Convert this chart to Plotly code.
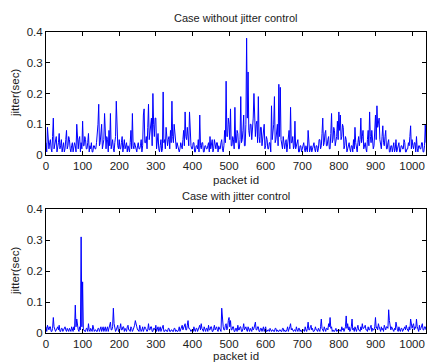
import plotly.graph_objects as go

# jitter readings, one per two packets (packet id 0, 2, 4, ...)
jitter_without = [
    0.04,0.01, 0.09,0.03, 0.02,0.04, 0.05,0.02, 0.01,0.06, 0.12,0.02, 0.03,0.05, 0.06,0.01, 0.02,0.04, 0.07,0.02,
    0.03,0.05, 0.01,0.03, 0.04,0.01, 0.02,0.05, 0.08,0.02, 0.03,0.06, 0.05,0.02, 0.01,0.03, 0.04,0.01, 0.02,0.04,
    0.03,0.01, 0.10,0.02, 0.02,0.05, 0.06,0.01, 0.04,0.02, 0.11,0.03, 0.03,0.06, 0.05,0.02, 0.02,0.04, 0.07,0.01,
    0.03,0.02, 0.04,0.01, 0.01,0.03, 0.03,0.02, 0.02,0.04, 0.06,0.10, 0.165,0.03, 0.04,0.08, 0.10,0.02, 0.03,0.05,
    0.135,0.04, 0.02,0.06, 0.05,0.01, 0.08,0.03, 0.135,0.02, 0.03,0.05, 0.02,0.01, 0.04,0.06, 0.175,0.04, 0.03,0.02,
    0.05,0.02, 0.02,0.04, 0.06,0.01, 0.03,0.05, 0.02,0.03, 0.04,0.01, 0.03,0.02, 0.01,0.04, 0.08,0.02, 0.135,0.03,
    0.02,0.04, 0.03,0.01, 0.01,0.03, 0.04,0.02, 0.02,0.03, 0.05,0.01, 0.03,0.13, 0.15,0.04, 0.04,0.06, 0.02,0.09,
    0.165,0.05, 0.08,0.12, 0.12,0.03, 0.20,0.10, 0.06,0.12, 0.12,0.02, 0.04,0.07, 0.02,0.01, 0.03,0.05, 0.01,0.02,
    0.205,0.04, 0.05,0.02, 0.09,0.06, 0.03,0.05, 0.06,0.02, 0.08,0.04, 0.175,0.06, 0.04,0.10, 0.06,0.02, 0.02,0.04,
    0.03,0.01, 0.01,0.02, 0.04,0.03, 0.02,0.05, 0.08,0.03, 0.14,0.06, 0.05,0.09, 0.07,0.03, 0.14,0.05, 0.03,0.02,
    0.02,0.04, 0.04,0.01, 0.01,0.03, 0.03,0.02, 0.05,0.01, 0.13,0.03, 0.02,0.04, 0.04,0.01, 0.01,0.03, 0.03,0.02,
    0.02,0.03, 0.04,0.01, 0.06,0.02, 0.03,0.05, 0.01,0.02, 0.05,0.03, 0.02,0.04, 0.04,0.01, 0.03,0.02, 0.02,0.04,
    0.05,0.02, 0.01,0.03, 0.08,0.04, 0.24,0.06, 0.06,0.12, 0.10,0.05, 0.15,0.03, 0.03,0.06, 0.05,0.02, 0.155,0.04,
    0.04,0.08, 0.07,0.02, 0.02,0.05, 0.19,0.04, 0.05,0.08, 0.13,0.03, 0.03,0.10, 0.38,0.12, 0.27,0.08, 0.06,0.10,
    0.10,0.05, 0.08,0.12, 0.20,0.07, 0.06,0.10, 0.11,0.04, 0.19,0.06, 0.04,0.09, 0.09,0.03, 0.05,0.08, 0.10,0.02,
    0.03,0.06, 0.05,0.02, 0.02,0.04, 0.04,0.01, 0.16,0.05, 0.07,0.10, 0.19,0.04, 0.05,0.08, 0.10,0.03, 0.23,0.06,
    0.22,0.05, 0.04,0.02, 0.06,0.03, 0.02,0.04, 0.05,0.01, 0.03,0.06, 0.08,0.02, 0.155,0.04, 0.04,0.06, 0.02,0.03,
    0.11,0.02, 0.03,0.05, 0.05,0.01, 0.01,0.03, 0.03,0.01, 0.02,0.04, 0.04,0.02, 0.01,0.03, 0.02,0.01, 0.08,0.02,
    0.01,0.02, 0.03,0.01, 0.02,0.04, 0.04,0.02, 0.01,0.03, 0.03,0.01, 0.02,0.05, 0.05,0.02, 0.03,0.07, 0.12,0.03,
    0.04,0.07, 0.08,0.03, 0.03,0.05, 0.06,0.02, 0.02,0.07, 0.135,0.04, 0.05,0.09, 0.08,0.03, 0.04,0.06, 0.11,0.05,
    0.14,0.08, 0.13,0.05, 0.06,0.10, 0.09,0.02, 0.03,0.06, 0.05,0.01, 0.02,0.04, 0.04,0.02, 0.01,0.03, 0.03,0.01,
    0.05,0.02, 0.09,0.04, 0.02,0.01, 0.04,0.06, 0.03,0.05, 0.12,0.04, 0.06,0.08, 0.02,0.03, 0.04,0.02, 0.01,0.05,
    0.08,0.03, 0.14,0.06, 0.04,0.08, 0.06,0.02, 0.03,0.07, 0.13,0.05, 0.16,0.09, 0.10,0.12, 0.05,0.03, 0.02,0.06,
    0.095,0.04, 0.03,0.06, 0.08,0.02, 0.02,0.04, 0.05,0.01, 0.01,0.03, 0.03,0.01, 0.02,0.04, 0.01,0.02, 0.05,0.01,
    0.02,0.04, 0.04,0.01, 0.01,0.03, 0.03,0.02, 0.02,0.05, 0.04,0.01, 0.01,0.02, 0.02,0.04, 0.03,0.06, 0.095,0.02,
    0.05,0.03, 0.02,0.04, 0.04,0.01, 0.06,0.02, 0.01,0.03, 0.03,0.02, 0.02,0.04, 0.04,0.01, 0.01,0.03, 0.10,0.04,
]

jitter_with = [
    0.02,0.005, 0.025,0.01, 0.01,0.02, 0.02,0.005, 0.005,0.015, 0.05,0.02, 0.015,0.005, 0.01,0.02, 0.02,0.01, 0.025,0.005,
    0.005,0.015, 0.015,0.005, 0.01,0.02, 0.02,0.01, 0.005,0.015, 0.01,0.005, 0.015,0.01, 0.005,0.02, 0.01,0.005, 0.02,0.01,
    0.09,0.02, 0.045,0.01, 0.01,0.005, 0.02,0.01, 0.31,0.02, 0.165,0.01, 0.01,0.005, 0.005,0.015, 0.015,0.005, 0.03,0.01,
    0.005,0.015, 0.01,0.005, 0.025,0.01, 0.005,0.01, 0.01,0.005, 0.005,0.015, 0.015,0.005, 0.01,0.02, 0.005,0.01, 0.02,0.005,
    0.01,0.02, 0.005,0.01, 0.02,0.005, 0.015,0.025, 0.035,0.01, 0.01,0.02, 0.08,0.03, 0.02,0.005, 0.01,0.015, 0.025,0.005,
    0.005,0.015, 0.03,0.01, 0.01,0.02, 0.02,0.005, 0.015,0.01, 0.005,0.02, 0.025,0.01, 0.01,0.005, 0.02,0.015, 0.005,0.01,
    0.015,0.025, 0.04,0.02, 0.02,0.01, 0.01,0.005, 0.025,0.015, 0.005,0.01, 0.02,0.005, 0.01,0.02, 0.015,0.005, 0.005,0.01,
    0.03,0.01, 0.01,0.02, 0.02,0.005, 0.005,0.015, 0.015,0.01, 0.025,0.005, 0.01,0.02, 0.005,0.01, 0.02,0.005, 0.01,0.015,
    0.025,0.005, 0.005,0.01, 0.01,0.005, 0.005,0.015, 0.015,0.005, 0.005,0.01, 0.01,0.005, 0.005,0.015, 0.015,0.005, 0.01,0.005,
    0.005,0.01, 0.02,0.005, 0.01,0.02, 0.025,0.01, 0.015,0.02, 0.03,0.01, 0.01,0.025, 0.04,0.015, 0.015,0.01, 0.005,0.01,
    0.01,0.005, 0.02,0.01, 0.005,0.015, 0.015,0.005, 0.01,0.02, 0.025,0.01, 0.03,0.015, 0.01,0.005, 0.02,0.01, 0.005,0.015,
    0.015,0.005, 0.025,0.01, 0.01,0.02, 0.02,0.005, 0.005,0.015, 0.025,0.01, 0.015,0.02, 0.01,0.005, 0.02,0.015, 0.01,0.005,
    0.08,0.02, 0.02,0.01, 0.01,0.025, 0.03,0.01, 0.015,0.04, 0.05,0.02, 0.04,0.01, 0.01,0.02, 0.02,0.005, 0.005,0.015,
    0.015,0.005, 0.025,0.01, 0.01,0.02, 0.02,0.005, 0.005,0.015, 0.03,0.01, 0.015,0.02, 0.01,0.005, 0.02,0.01, 0.005,0.015,
    0.01,0.005, 0.02,0.01, 0.015,0.025, 0.035,0.01, 0.01,0.02, 0.02,0.005, 0.005,0.015, 0.015,0.005, 0.01,0.02, 0.005,0.01,
    0.02,0.005, 0.005,0.01, 0.01,0.005, 0.015,0.01, 0.005,0.01, 0.01,0.005, 0.005,0.015, 0.015,0.005, 0.01,0.005, 0.005,0.01,
    0.01,0.005, 0.005,0.015, 0.015,0.005, 0.01,0.005, 0.005,0.01, 0.02,0.005, 0.01,0.02, 0.03,0.01, 0.015,0.005, 0.005,0.01,
    0.01,0.005, 0.02,0.01, 0.005,0.015, 0.015,0.005, 0.01,0.005, 0.005,0.01, 0.01,0.005, 0.02,0.01, 0.005,0.015, 0.035,0.01,
    0.01,0.02, 0.025,0.01, 0.015,0.005, 0.005,0.01, 0.02,0.01, 0.01,0.005, 0.015,0.01, 0.005,0.02, 0.045,0.015, 0.01,0.005,
    0.02,0.01, 0.005,0.015, 0.015,0.01, 0.03,0.02, 0.05,0.015, 0.02,0.005, 0.01,0.005, 0.005,0.01, 0.015,0.005, 0.01,0.005,
    0.005,0.01, 0.01,0.005, 0.02,0.01, 0.015,0.005, 0.01,0.02, 0.055,0.015, 0.03,0.01, 0.02,0.005, 0.01,0.02, 0.045,0.01,
    0.015,0.005, 0.02,0.01, 0.005,0.015, 0.025,0.01, 0.01,0.005, 0.02,0.01, 0.03,0.015, 0.015,0.02, 0.025,0.01, 0.01,0.005,
    0.02,0.01, 0.01,0.02, 0.025,0.005, 0.015,0.01, 0.01,0.02, 0.05,0.015, 0.02,0.01, 0.03,0.02, 0.01,0.005, 0.02,0.01,
    0.015,0.005, 0.025,0.01, 0.01,0.02, 0.02,0.015, 0.075,0.04, 0.03,0.01, 0.02,0.015, 0.01,0.005, 0.015,0.01, 0.035,0.01,
    0.01,0.005, 0.02,0.01, 0.005,0.015, 0.015,0.005, 0.01,0.02, 0.02,0.01, 0.025,0.015, 0.01,0.005, 0.02,0.01, 0.045,0.015,
    0.015,0.025, 0.03,0.01, 0.02,0.015, 0.045,0.02, 0.01,0.005, 0.025,0.01, 0.015,0.03, 0.03,0.01, 0.01,0.02, 0.02,0.01,
]

packet_ids_top = list(range(0, 2 * len(jitter_without), 2))
packet_ids_bottom = list(range(0, 2 * len(jitter_with), 2))

titles = ["Case without jitter control", "Case with jitter control"]
x_label = "packet id"
y_label = "jitter(sec)"
x_ticks = [0, 100, 200, 300, 400, 500, 600, 700, 800, 900, 1000]
y_ticks = [0, 0.1, 0.2, 0.3, 0.4]

FONT = "Liberation Sans, Arial, sans-serif"
W, H = 427, 362
ml, mt = 46, 32
mr = W - 426
mb = H - 333
ph = H - mt - mb
pw = W - ml - mr

def py(page_y):
    return (H - mb - page_y) / ph

def px(page_x):
    return (page_x - ml) / pw

fig = go.Figure()
fig.add_trace(go.Scatter(x=packet_ids_top, y=jitter_without, mode="lines",
                         line=dict(color="#0000ff", width=1), xaxis="x", yaxis="y"))
fig.add_trace(go.Scatter(x=packet_ids_bottom, y=jitter_with, mode="lines",
                         line=dict(color="#0000ff", width=1), xaxis="x2", yaxis="y2"))

axis_common = dict(showline=True, linecolor="black", linewidth=1, mirror="ticks",
                   ticks="inside", ticklen=4, tickcolor="black", showgrid=False,
                   zeroline=False, tickfont=dict(family=FONT, size=11.5, color="#222"))

fig.update_layout(
    width=W, height=H,
    margin=dict(l=ml, r=mr, t=mt, b=mb, autoexpand=False),
    paper_bgcolor="white", plot_bgcolor="white",
    showlegend=False,
    hovermode=False,
    xaxis=dict(domain=[0, 1], range=[0, 1038], tickvals=x_ticks, anchor="y", **axis_common),
    yaxis=dict(domain=[py(155), 1], range=[0, 0.4], tickvals=y_ticks, anchor="x", **axis_common),
    xaxis2=dict(domain=[0, 1], range=[0, 1038], tickvals=x_ticks, anchor="y2", **axis_common),
    yaxis2=dict(domain=[0, py(209)], range=[0, 0.4], tickvals=y_ticks, anchor="x2", **axis_common),
)

ann = [
    (titles[0], px(236), py(18), 0, 11.0),
    (titles[1], px(236), py(196), 0, 11.0),
    (x_label, px(236), py(180), 0, 11.5),
    (x_label, px(236), py(356), 0, 11.5),
    (y_label, px(15), py(93), -90, 11.5),
    (y_label, px(15), py(271), -90, 11.5),
]
for i, (txt, x, y, ang, sz) in enumerate(ann):
    fig.add_annotation(text=txt, x=x, y=y, xref="paper", yref="paper",
                       showarrow=False, textangle=ang, xanchor="center", yanchor="middle",
                       font=dict(family=FONT, size=sz, color="#222"))

# remove the browser's default 8px body margin so the figure sits at the page origin
fig.write_html("out.html",
               config={"displayModeBar": False},
               post_script="document.body.style.margin='0';document.body.style.overflow='hidden';")
